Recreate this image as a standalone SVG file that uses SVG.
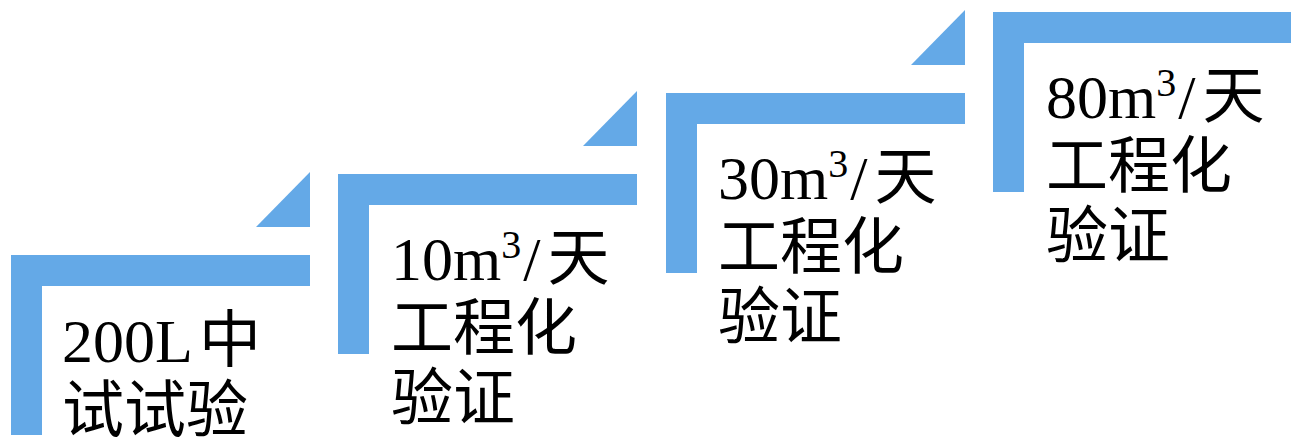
<svg xmlns="http://www.w3.org/2000/svg" xmlns:xlink="http://www.w3.org/1999/xlink" width="1291" height="439" viewBox="0 0 1291 439">
<style>
.bar{fill:#64A9E7}
.t{font-family:"Liberation Serif","Noto Sans CJK SC",serif;font-size:62px;fill:#000}
.sup{font-size:40px}
</style>
<defs>
<path id="frame" d="M0 0H299V31H31V180H0Z"/>
<path id="tri" d="M245 -28L299 -83V-28Z"/>
</defs>
<rect width="1291" height="439" fill="#fff"/>
<g id="node1" transform="translate(11,255)">
<use xlink:href="#frame" class="bar"/>
<use xlink:href="#tri" class="bar"/>
<text class="t" x="51" y="107">200L<tspan dx="6">中</tspan></text>
<text class="t" x="51" y="177">试试验</text>
</g>
<g id="node2" transform="translate(338,174)">
<use xlink:href="#frame" class="bar"/>
<use xlink:href="#tri" class="bar"/>
<text class="t" x="53" y="106">10m<tspan class="sup" dy="-22">3</tspan><tspan dx="2" dy="22">/</tspan><tspan dx="7">天</tspan></text>
<text class="t" x="53" y="176">工程化</text>
<text class="t" x="53" y="246">验证</text>
</g>
<g id="node3" transform="translate(666,93)">
<use xlink:href="#frame" class="bar"/>
<use xlink:href="#tri" class="bar"/>
<text class="t" x="52" y="106">30m<tspan class="sup" dy="-22">3</tspan><tspan dx="2" dy="22">/</tspan><tspan dx="7">天</tspan></text>
<text class="t" x="52" y="176">工程化</text>
<text class="t" x="52" y="246">验证</text>
</g>
<g id="node4" transform="translate(993,12)">
<use xlink:href="#frame" class="bar"/>
<text class="t" x="53" y="106">80m<tspan class="sup" dy="-22">3</tspan><tspan dx="2" dy="22">/</tspan><tspan dx="7">天</tspan></text>
<text class="t" x="53" y="176">工程化</text>
<text class="t" x="53" y="246">验证</text>
</g>
<g id="connectors"/>
</svg>
